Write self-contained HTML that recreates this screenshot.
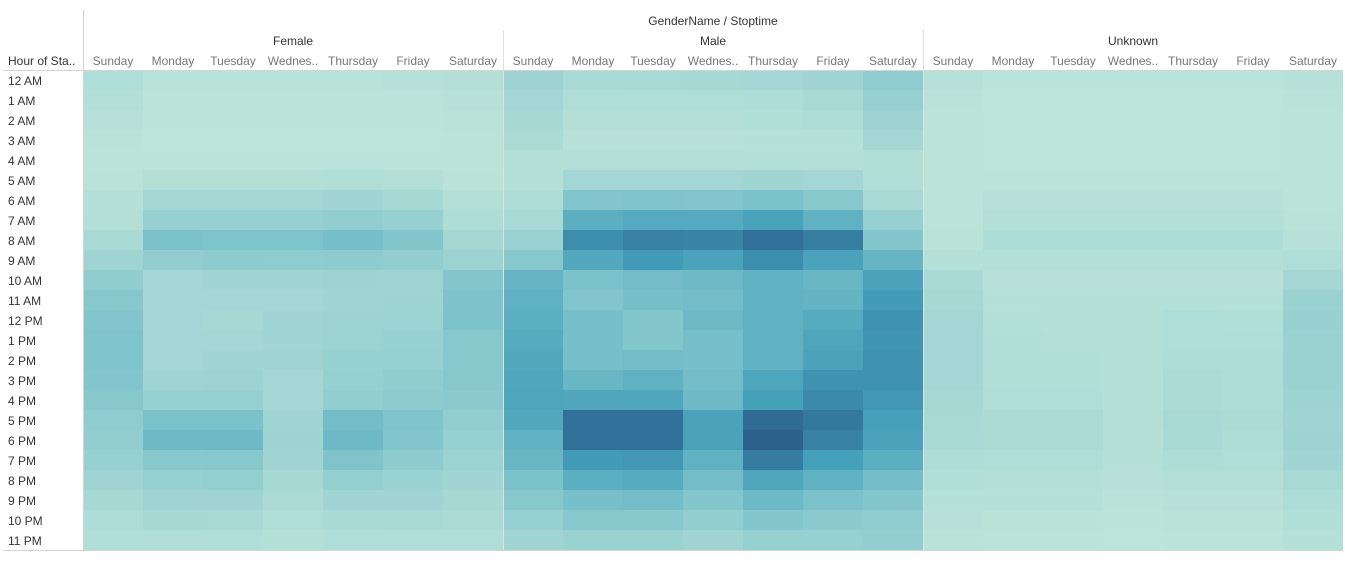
<!DOCTYPE html>
<html><head><meta charset="utf-8"><style>
body{margin:0;background:#fff;font-family:"Liberation Sans",sans-serif}
svg text{font-family:"Liberation Sans",sans-serif}
</style></head><body>
<svg id="chart" width="1345" height="569" xmlns="http://www.w3.org/2000/svg"></svg>
<script>
const hours=["12 AM","1 AM","2 AM","3 AM","4 AM","5 AM","6 AM","7 AM","8 AM","9 AM","10 AM","11 AM","12 PM","1 PM","2 PM","3 PM","4 PM","5 PM","6 PM","7 PM","8 PM","9 PM","10 PM","11 PM"];
const days=["Sunday","Monday","Tuesday","Wednes..","Thursday","Friday","Saturday"];
const genders=["Female","Male","Unknown"];
const female=[[8,3,3,3,3,4,6],[6,2,2,2,2,2,4],[4,2,2,2,2,2,3],[3,1,1,1,1,1,2],[2,2,2,2,2,2,2],[3,6,6,6,7,6,3],[5,14,14,14,16,13,6],[6,22,22,22,24,22,9],[12,36,34,34,38,32,14],[17,24,27,26,27,24,19],[25,15,16,16,18,17,32],[30,14,15,15,17,18,35],[33,15,13,16,18,19,35],[34,15,14,16,19,21,30],[34,15,16,17,21,22,30],[33,17,18,14,22,25,30],[30,22,22,15,24,27,28],[26,36,36,17,40,34,24],[24,42,42,18,42,33,22],[22,29,30,17,34,27,19],[17,22,23,13,23,20,16],[13,17,17,10,16,16,13],[9,13,12,8,11,12,10],[7,7,7,5,8,8,8]];
const male=[[18,11,12,13,15,17,26],[15,8,8,8,9,12,22],[13,6,6,6,7,9,18],[10,4,4,4,5,5,14],[6,6,6,6,6,6,7],[6,15,15,15,16,15,7],[9,33,34,33,36,30,12],[12,50,53,53,58,48,22],[20,68,74,72,82,75,32],[30,54,62,58,68,58,45],[45,36,40,42,48,44,58],[48,33,38,40,48,46,62],[50,38,32,42,48,52,66],[52,38,32,38,48,56,65],[54,38,40,38,48,58,66],[55,44,48,40,56,66,66],[56,55,55,42,60,70,64],[54,82,82,58,86,78,60],[48,82,82,58,95,74,58],[44,62,64,48,76,60,50],[36,50,52,40,55,48,40],[30,38,40,32,42,36,32],[22,30,30,24,32,28,26],[16,20,20,16,22,22,24]];
const unknown=[[4,2,2,2,2,2,4],[3,1,1,1,1,1,3],[2,1,1,1,1,1,2],[2,1,1,1,1,1,2],[2,1,1,1,1,1,2],[2,2,2,2,2,2,2],[2,4,4,4,4,4,2],[2,6,6,6,6,6,3],[3,9,9,9,9,9,4],[5,6,6,6,6,6,8],[11,4,4,4,4,4,14],[13,5,5,5,5,5,20],[14,6,5,5,8,7,22],[15,7,6,5,8,8,20],[15,7,7,5,9,9,20],[14,7,7,5,10,9,20],[13,8,8,5,10,9,18],[12,10,10,6,12,10,17],[11,10,10,5,11,9,18],[9,8,8,5,9,8,16],[7,6,6,4,6,6,12],[5,5,5,3,4,4,9],[4,3,3,2,3,3,7],[3,2,2,1,2,2,5]];
const series=[female,male,unknown];
const svg=document.getElementById('chart');
const NS="http://www.w3.org/2000/svg";
const X0=83,CW=60,Y0=70,RH=20;
const xPos=(g,d)=>X0+(g*7+d)*CW;
const yPos=h=>Y0+h*RH;
const stops=[[0,[190,229,218]],[35,[126,195,203]],[60,[69,160,186]],[80,[49,115,154]],[100,[44,89,133]]];
function color(v){for(let i=1;i<stops.length;i++){if(v<=stops[i][0]){const a=stops[i-1],b=stops[i],t=(v-a[0])/(b[0]-a[0]);return 'rgb('+a[1].map((c,k)=>Math.round(c+(b[1][k]-c)*t)).join(',')+')';}}return 'rgb(44,89,133)';}
function mk(tag,attrs,txt){const e=document.createElementNS(NS,tag);for(const k in attrs)e.setAttribute(k,attrs[k]);if(txt!=null)e.textContent=txt;svg.appendChild(e);return e;}
series.forEach((s,g)=>s.forEach((row,h)=>row.forEach((v,d)=>{
const r=mk('rect',{x:xPos(g,d),y:yPos(h),width:CW,height:RH,fill:color(v)});


})));
let t=mk('text',{x:713,y:25,'font-size':12,fill:'#333','text-anchor':'middle'},'GenderName / Stoptime');


t=mk('text',{x:8,y:65,'font-size':12,fill:'#333'},'Hour of Sta..');


genders.forEach((gn,g)=>{
const e=mk('text',{x:xPos(g,0)+210,y:45,'font-size':12,fill:'#333','text-anchor':'middle'},gn);


days.forEach((dn,d)=>{
const e2=mk('text',{x:xPos(g,d)+30,y:65,'font-size':12,fill:'#777','text-anchor':'middle'},dn);


});});
hours.forEach((hn,h)=>{
const e=mk('text',{x:8,y:yPos(h)+15,'font-size':12,fill:'#333'},hn);


});
let l=mk('line',{x1:83.5,y1:10,x2:83.5,y2:550,stroke:'#d4d4d4'});


l=mk('line',{x1:3,y1:70.5,x2:1343,y2:70.5,stroke:'#d4d4d4'});


l=mk('line',{x1:3,y1:550.5,x2:1343,y2:550.5,stroke:'#d4d4d4'});


[503.5,923.5].forEach(x=>{
const s=mk('line',{x1:x,y1:30,x2:x,y2:550,stroke:'#e0e0e0'});


});
</script>
</body></html>
